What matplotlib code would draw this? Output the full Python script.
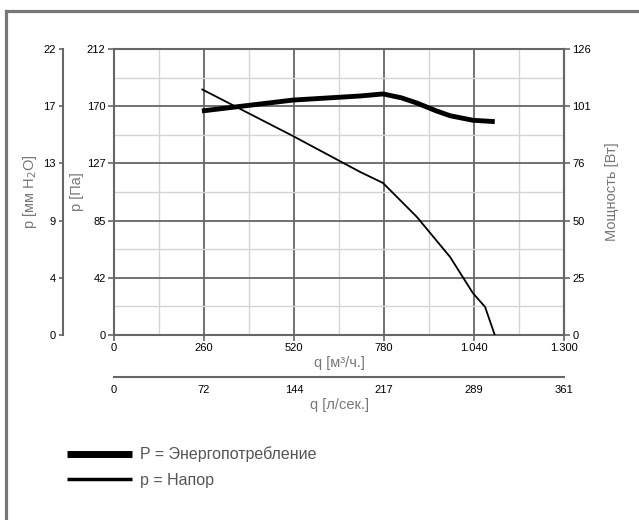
import matplotlib
matplotlib.use("Agg")
import matplotlib.pyplot as plt
from matplotlib.lines import Line2D
import numpy as np

plt.rcParams['font.family'] = ['Liberation Sans', 'DejaVu Sans']

# fan curve values
q_head = [255, 517, 710, 777, 875, 971, 1037, 1072, 1100]        # m3/h
p_head = [182, 147.5, 121, 112.7, 87.5, 57.8, 31, 20.8, 0]       # Pa
q_power = [254, 517, 711, 777, 830, 875, 930, 971, 1037, 1100]   # m3/h
w_power = [98.7, 103.5, 105.3, 106.2, 104.5, 102.2, 98.8, 96.6, 94.6, 94.0]  # W

q_ticks = [0, 260, 520, 780, 1040, 1300]
q_labels = ["0", "260", "520", "780", "1.040", "1.300"]
pa_ticks = [0, 42.4, 84.8, 127.2, 169.6, 212]
pa_labels = ["0", "42", "85", "127", "170", "212"]
mm_labels = ["0", "4", "9", "13", "17", "22"]
w_ticks = [0, 25.2, 50.4, 75.6, 100.8, 126]
w_labels = ["0", "25", "50", "76", "101", "126"]
ls_labels = ["0", "72", "144", "217", "289", "361"]

spine_c = "#666666"
label_c = "#777777"
tick_fs = 8
lab_fs = 10.5

fig = plt.figure(figsize=(6.39, 5.2), dpi=100)
W, H = 639, 520
ax = fig.add_axes([114 / W, (H - 335) / H, 450 / W, 286 / H])

ax.set_xlim(0, 1300)
ax.set_ylim(0, 212)
ax.set_xticks(q_ticks)
ax.set_xticklabels(q_labels)
ax.set_yticks(pa_ticks)
ax.set_yticklabels(pa_labels)
ax.set_xticks(np.arange(130, 1300, 260), minor=True)
ax.set_yticks([21.2, 63.6, 106, 148.4, 190.8], minor=True)
ax.grid(which='major', color=spine_c, lw=1.3)
ax.grid(which='minor', color="#d4d4d4", lw=1.0)
ax.set_axisbelow(True)
ax.tick_params(which='major', length=4, width=1.2, color=spine_c, labelsize=tick_fs, pad=2)
ax.tick_params(which='minor', length=0)
for s in ax.spines.values():
    s.set_color(spine_c)
    s.set_linewidth(1.5)
ax.set_xlabel("q [м³/ч.]", color=label_c, fontsize=lab_fs, labelpad=2)
ax.set_ylabel("p [Па]", color=label_c, fontsize=lab_fs)
ax.yaxis.set_label_coords(-0.066, 0.5)

ax.plot(q_head, p_head, color='black', lw=1.3, zorder=5)

# power on right axis
axp = ax.twinx()
axp.set_ylim(0, 126)
axp.set_yticks(w_ticks)
axp.set_yticklabels(w_labels)
axp.tick_params(length=4, width=1.2, color=spine_c, labelsize=tick_fs, pad=2)
for s in axp.spines.values():
    s.set_visible(False)
axp.spines['right'].set_visible(True)
axp.spines['right'].set_color(spine_c)
axp.spines['right'].set_linewidth(1.5)
axp.set_ylabel("Мощность [Вт]", color=label_c, fontsize=lab_fs, labelpad=10)
axp.plot(q_power, w_power, color='black', lw=3.5, solid_capstyle='butt', zorder=5)

# mm H2O axis on the far left
axm = ax.twinx()
axm.set_ylim(0, 212)
axm.yaxis.set_ticks_position('left')
axm.yaxis.set_label_position('left')
axm.set_yticks(pa_ticks)
axm.set_yticklabels(mm_labels)
axm.tick_params(length=3, width=1.2, color=spine_c, labelsize=tick_fs, pad=2)
for s in axm.spines.values():
    s.set_visible(False)
axm.spines['left'].set_visible(True)
axm.spines['left'].set_position(('outward', 37))
axm.spines['left'].set_color(spine_c)
axm.spines['left'].set_linewidth(1.5)
axm.set_ylabel("p [мм H$_2$O]", color=label_c, fontsize=lab_fs)
axm.yaxis.set_label_coords(-0.166, 0.5)

# l/s axis under the plot
axl = ax.twiny()
axl.set_xlim(0, 1300 / 3.6)
axl.xaxis.set_ticks_position('bottom')
axl.xaxis.set_label_position('bottom')
axl.set_xticks([q / 3.6 for q in q_ticks])
axl.set_xticklabels(ls_labels)
axl.set_xticks([0, 1300 / 3.6], minor=True)
axl.tick_params(which='major', length=0, labelsize=tick_fs, pad=6)
axl.tick_params(which='minor', length=4, width=1.2, color=spine_c)
for s in axl.spines.values():
    s.set_visible(False)
axl.spines['bottom'].set_visible(True)
axl.spines['bottom'].set_position(('outward', 30))
axl.spines['bottom'].set_color(spine_c)
axl.spines['bottom'].set_linewidth(1.5)
axl.set_xlabel("q [л/сек.]", color=label_c, fontsize=lab_fs, labelpad=2)

# legend
handles = [Line2D([], [], color='black', lw=5, solid_capstyle='butt'),
           Line2D([], [], color='black', lw=2.5, solid_capstyle='butt')]
fig.legend(handles, ["P = Энергопотребление", "p = Напор"], loc='upper left',
           bbox_to_anchor=(53 / W, 1 - 432 / H), frameon=False, fontsize=11.5,
           handlelength=4.05, handletextpad=0.5, labelspacing=0.65, labelcolor="#555555")

# frame lines (top and left)
fig.add_artist(Line2D([5.5 / W, 1], [1 - 11 / H, 1 - 11 / H], color="#777777", lw=2.3))
fig.add_artist(Line2D([5.5 / W, 5.5 / W], [0, 1 - 11 / H], color="#777777", lw=2.3))

fig.savefig("out.png", dpi=100)
